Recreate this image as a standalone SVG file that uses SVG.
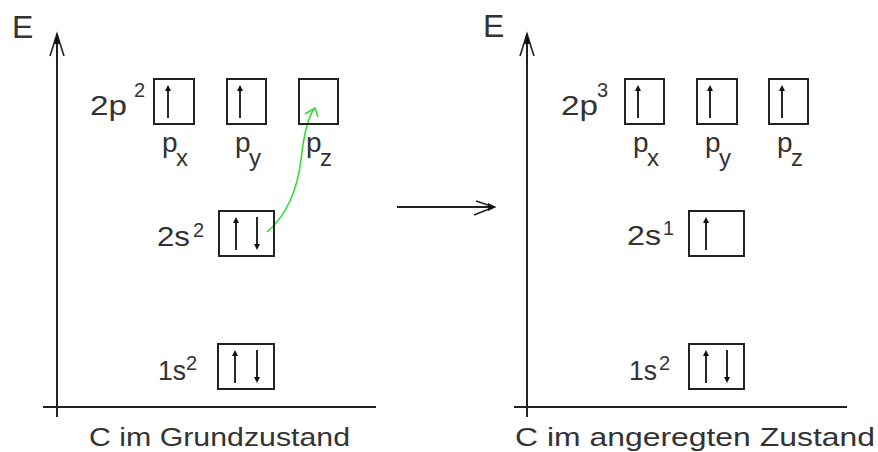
<svg xmlns="http://www.w3.org/2000/svg" width="878" height="452" viewBox="0 0 878 452">
<style>
text{font-family:"Liberation Sans",Arial,sans-serif;fill:#333}
.t{font-size:28px}
.cap{font-size:26px}
.sup{font-size:20px}
.sub{font-size:24px}
.box{fill:none;stroke:#222;stroke-width:2}
.ax{fill:none;stroke:#222;stroke-width:2}
.e{fill:none;stroke:#111;stroke-width:1.8}
</style>
<defs>
<g id="ua"><line x1="0" y1="33" x2="0" y2="3" class="e"/><path d="M-3,6 L0,0 L3,6 Z" fill="#111"/></g>
<g id="da"><line x1="0" y1="0" x2="0" y2="30" class="e"/><path d="M-3,27 L0,33 L3,27 Z" fill="#111"/></g>
</defs>
<rect width="878" height="452" fill="#ffffff"/>

<g id="connectors">
<g id="axes-left">
<line class="ax" x1="57" y1="36" x2="57" y2="417"/>
<line class="ax" x1="43" y1="407" x2="376" y2="407"/>
<path d="M50,56 L57,34 L64,56" fill="none" stroke="#222" stroke-width="1.6"/>
<path d="M54,44 L57,33 L60,44 Z" fill="#111"/>
</g>
<g id="axes-right">
<line class="ax" x1="527" y1="36" x2="527" y2="417"/>
<line class="ax" x1="514" y1="407" x2="847" y2="407"/>
<path d="M520,56 L527,34 L534,56" fill="none" stroke="#222" stroke-width="1.6"/>
<path d="M524,44 L527,33 L530,44 Z" fill="#111"/>
</g>
<g id="transition-arrow">
<line x1="397" y1="207" x2="493" y2="207" stroke="#222" stroke-width="2"/>
<path d="M476,201 L494,207 L474,215" fill="none" stroke="#222" stroke-width="1.6"/>
<path d="M488,203 L496,207 L488,211 Z" fill="#111"/>
</g>
<g id="excitation-arrow">
<path d="M267,232 Q295,208 301,160 Q305,122 314,109" fill="none" stroke="#33dd33" stroke-width="1.6"/>
<path d="M305,114 L315,108 L318,117" fill="none" stroke="#33dd33" stroke-width="1.6"/>
</g>
</g>

<g id="left-E"><text x="12" y="38" style="font-size:32px">E</text></g>
<g id="right-E"><text x="483" y="37" style="font-size:32px">E</text></g>

<g id="left-2p">
<text class="t" x="90" y="115" textLength="37" lengthAdjust="spacingAndGlyphs">2p</text>
<text class="sup" x="134" y="97">2</text>
</g>
<g id="left-px"><rect class="box" x="154" y="79" width="40" height="45"/><use href="#ua" x="168" y="85"/>
<text class="t" x="162" y="152">p</text><text class="sub" x="176" y="166">x</text></g>
<g id="left-py"><rect class="box" x="227" y="79" width="39" height="45"/><use href="#ua" x="240" y="85"/>
<text class="t" x="235" y="152">p</text><text class="sub" x="249" y="166">y</text></g>
<g id="left-pz"><rect class="box" x="299" y="79" width="39" height="45"/>
<text class="t" x="306" y="152">p</text><text class="sub" x="320" y="166">z</text></g>

<g id="left-2s">
<text class="t" x="157" y="246" textLength="33" lengthAdjust="spacingAndGlyphs">2s</text>
<text class="sup" x="193" y="237">2</text>
<rect class="box" x="219" y="211" width="55" height="45"/>
<use href="#ua" x="236" y="217"/><use href="#da" x="257" y="217"/>
</g>
<g id="left-1s">
<text class="t" x="158" y="380" textLength="28" lengthAdjust="spacingAndGlyphs">1s</text>
<text class="sup" x="186" y="370">2</text>
<rect class="box" x="218" y="344" width="56" height="45"/>
<use href="#ua" x="235" y="350"/><use href="#da" x="257" y="350"/>
</g>
<g id="left-caption"><text class="cap" x="89" y="446" textLength="261" lengthAdjust="spacingAndGlyphs">C im Grundzustand</text></g>

<g id="right-2p">
<text class="t" x="561" y="115" textLength="37" lengthAdjust="spacingAndGlyphs">2p</text>
<text class="sup" x="597" y="97">3</text>
</g>
<g id="right-px"><rect class="box" x="625" y="79" width="39" height="45"/><use href="#ua" x="638" y="85"/>
<text class="t" x="633" y="152">p</text><text class="sub" x="647" y="166">x</text></g>
<g id="right-py"><rect class="box" x="697" y="79" width="40" height="45"/><use href="#ua" x="710" y="85"/>
<text class="t" x="705" y="152">p</text><text class="sub" x="719" y="166">y</text></g>
<g id="right-pz"><rect class="box" x="769" y="79" width="39" height="45"/><use href="#ua" x="782" y="85"/>
<text class="t" x="777" y="152">p</text><text class="sub" x="791" y="166">z</text></g>

<g id="right-2s">
<text class="t" x="627" y="245" textLength="34" lengthAdjust="spacingAndGlyphs">2s</text>
<text class="sup" x="663" y="235">1</text>
<rect class="box" x="689" y="211" width="55" height="45"/>
<use href="#ua" x="706" y="217"/>
</g>
<g id="right-1s">
<text class="t" x="629" y="380" textLength="28" lengthAdjust="spacingAndGlyphs">1s</text>
<text class="sup" x="659" y="370">2</text>
<rect class="box" x="689" y="344" width="55" height="45"/>
<use href="#ua" x="706" y="350"/><use href="#da" x="727" y="350"/>
</g>
<g id="right-caption"><text class="cap" x="515" y="446" textLength="360" lengthAdjust="spacingAndGlyphs">C im angeregten Zustand</text></g>
</svg>
